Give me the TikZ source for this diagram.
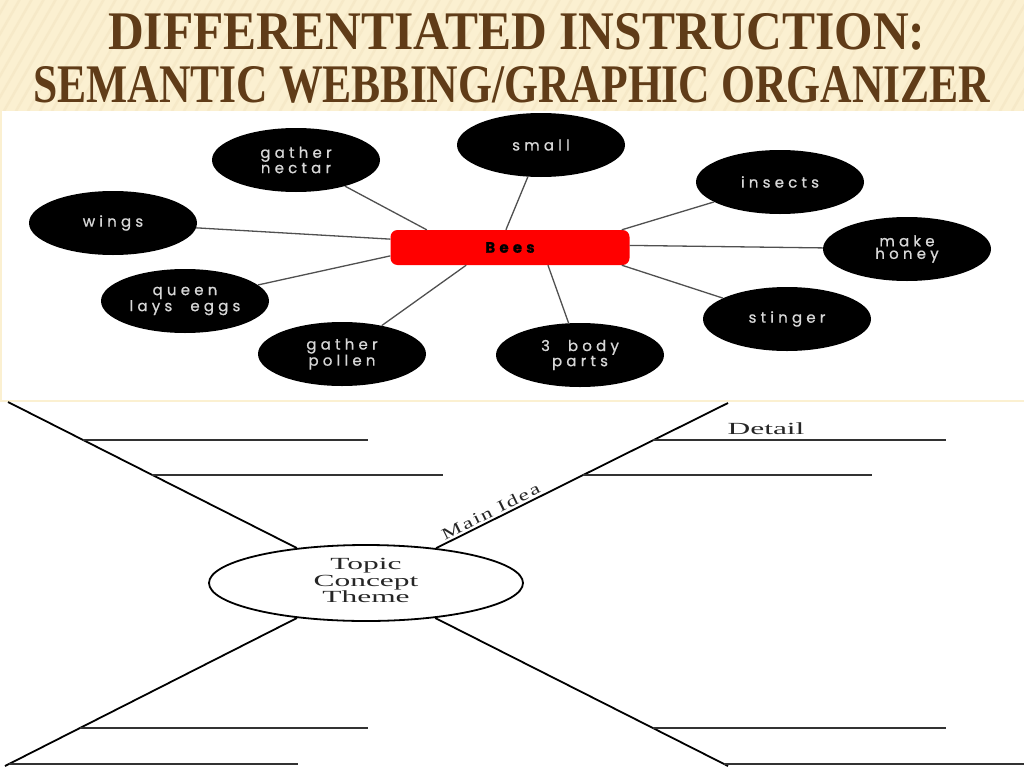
\documentclass[tikz,border=0pt]{standalone}
\usepackage{fontspec}
\setmainfont{Liberation Serif}
\newfontfamily\webfont[LetterSpace=28, WordSpace=2.2, FakeBold=0.8]{Poppins}
\usetikzlibrary{shapes.geometric}
\definecolor{slidebg}{RGB}{251,240,209}
\definecolor{stripecol}{RGB}{246,233,200}
\definecolor{titlebrown}{RGB}{96,60,24}
\definecolor{bubbletext}{RGB}{215,215,215}
\definecolor{connline}{RGB}{80,80,80}
\definecolor{blankline}{RGB}{50,50,50}
\newcommand\titleline[3]{\resizebox{#1pt}{#2pt}{\bfseries #3}}
\newcommand\stretched[1]{\scalebox{1.85}[1]{#1}}
\newcommand\wdraw[2]{
        \draw[webconn] (#1) -- (#2);
}
\tikzset{
    bubble/.style={ellipse, fill=black, inner sep=0pt, minimum width=168pt,
        minimum height=64pt, text=bubbletext, align=center,
        font=\webfont\fontsize{15}{12.5}\selectfont},
    beesbox/.style={rectangle, rounded corners=7pt, fill=red, minimum width=239pt,
        minimum height=35pt, font=\webfont\bfseries\fontsize{15}{15}\selectfont},
    webconn/.style={draw=connline, line width=1.3pt},
    organ/.style={draw=black, line width=1.8pt},
    blank/.style={draw=blankline, line width=2.6pt},
    serifbig/.style={font=\fontsize{17}{16.5}\selectfont, text=black!85},
}

\begin{document}
\begin{tikzpicture}[x=1pt,y=-1pt]
    \useasboundingbox (0,0) rectangle (1024,768);

    %draws slide background and the two pictures:
    \fill[slidebg] (0,0) rectangle (1024,768);
    \begin{scope}
        \clip (0,0) rectangle (1024,111);
        \foreach \x in {-140,-128,...,1100}
            \draw[stripecol, line width=2.5pt] (\x,111) -- ++(64,-112);
    \end{scope}
    \fill[white] (2,111) rectangle (1024,400);
    \fill[white] (0,402) rectangle (1024,768);

    %draws title:
    \node[anchor=base west, inner sep=0pt, text=titlebrown] (titleone) at (108,49)
        {\titleline{817}{36}{DIFFERENTIATED INSTRUCTION:}};
    \node[anchor=base west, inner sep=0pt, text=titlebrown] (titletwo) at (33,102)
        {\titleline{957}{36}{SEMANTIC WEBBING/GRAPHIC ORGANIZER}};

    %draws semantic web:
    \node[beesbox] (bees) at (510,247.5) {Bees};

    \node[bubble] (small) at (541,145) {small};
    \node[bubble] (nectar) at (296,160) {gather\\nectar};
    \node[bubble] (wings) at (113,223) {wings};
    \node[bubble] (queen) at (185,301) {queen\\lays eggs};
    \node[bubble] (pollen) at (342,354) {gather\\pollen};
    \node[bubble] (bodyparts) at (580,355) {3 body\\parts};
    \node[bubble] (insects) at (780,182) {insects};
    \node[bubble] (honey) at (907,249) {make\\honey};
    \node[bubble] (stinger) at (787,319) {stinger};

    \wdraw{nectar}{bees.168}
    \wdraw{wings}{bees.176}
    \wdraw{queen}{bees.184}
    \wdraw{pollen}{bees.202}
    \wdraw{small}{bees.103}
    \wdraw{bodyparts}{bees.-25}
    \wdraw{insects}{bees.9}
    \wdraw{honey}{bees.1}
    \wdraw{stinger}{bees.-9}

    %draws graphic organizer:
    \node[ellipse, organ, inner sep=0pt, minimum width=314pt, minimum height=76pt, serifbig]
        (topic) at (366,583)
        {\stretched{\begin{tabular}{@{}c@{}}Topic\\Concept\\Theme\end{tabular}}};

    \coordinate (ulend) at (8,402);
    \coordinate (urend) at (728,403);
    \coordinate (llend) at (5,766);
    \coordinate (lrend) at (728,766);

    \draw[organ] (topic) -- (ulend);
    \draw[organ] (topic) -- (urend)
        node[pos=0.2, sloped, above, inner sep=2pt, font=\fontsize{16}{16}\selectfont, text=black!85]
        (mainidea) {\addfontfeatures{LetterSpace=8}\scalebox{1.45}[1]{Main Idea}};
    \draw[organ] (topic) -- (llend);
    \draw[organ] (topic) -- (lrend);

    \node[serifbig] (detail) at (766,429) {\stretched{Detail}};

    \foreach \xa/\xb/\yy in {83/368/440, 152/443/475, 653/946/440, 583/872/475,
                             80/368/728, 9/298/764, 653/946/728, 724/1024/764}
        \draw[blank] (\xa,\yy) -- (\xb,\yy);

\end{tikzpicture}
\end{document}
